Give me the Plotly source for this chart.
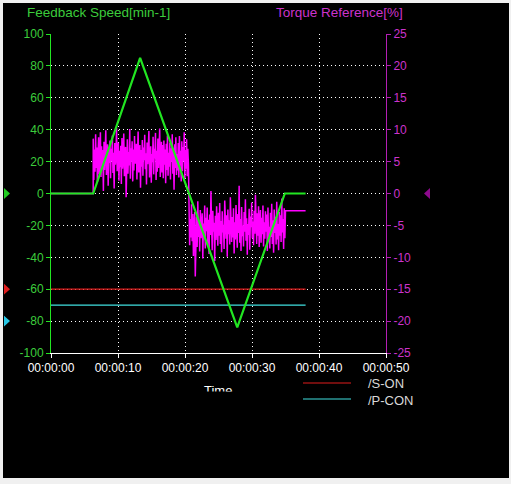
import plotly.graph_objects as go

# ---------------- data ----------------
speed_t = [0.0, 6.3, 13.3, 27.8, 34.9, 38.0]
speed_v = [0, 0, 85, -84, 0, 0]

son_t = [0.0, 38.0]
son_v = [-60, -60]
pcon_t = [0.0, 38.0]
pcon_v = [-70, -70]

torque_pre_t = [0.0, 6.3]
torque_pre_v = [0, 0]
seg1_start, seg1_end = 6.3, 20.6
torque_seg1 = [8.6, 2.1, 6.9, 3.4, 9.3, 4.0, 7.2, 1.8, 6.1, 8.8, 3.0, 5.9, 9.6, 2.6, 7.4, 4.3,
               6.8, 0.4, 8.1, 3.7, 6.3, 9.9, 2.9, 5.4, 7.7, 1.2, 6.6, 4.8, 8.3, 2.4, 7.0, 5.1,
               9.1, 3.2, 6.4, 0.8, 7.9, 4.5, 6.0, 10.3, 3.5, 5.7, 8.0, 2.0, 6.7, 4.1, 7.5, 1.5,
               8.7, 3.9, 5.5, 9.4, 2.7, 6.2, 7.3, -0.6, 5.8, 8.5, 3.1, 6.5, 4.4, 10.1, 2.3, 7.1,
               5.0, 8.2, 1.9, 6.9, 3.6, 9.0, 4.7, 5.3, 7.8, 2.2, 6.1, 9.7, 3.3, 5.6, 7.6, 0.9,
               6.8, 4.2, 8.4, 2.8, 7.2, 5.2, 9.2, 3.8, 6.3, 1.4, 8.0, 4.6, 6.6, 9.8, 2.5, 5.9,
               7.4, 1.7, 6.2, 4.9, 8.9, 3.0, 7.0, 5.5, 9.5, 2.1, 6.7, 3.4, 8.6, 4.0, 7.3, 10.2,
               2.6, 6.0, 8.1, 3.3, 7.6, 2.4, 8.3, 4.5, 6.9, 1.6, 7.8, 3.7, 9.1, 2.8, 6.4, 4.2,
               8.0, 2.2, 7.1, 5.0, 9.3, 3.1, 6.5, 0.6, 7.7, 4.0, 8.8, 2.9, 6.2, 3.6, 7.9, 2.5,
               9.0, 4.4, 6.7, 1.9, 8.2, 3.5, 7.3, 5.1, 9.6, 2.3, 6.8, 3.9, 8.5, 2.7, 7.0, 4.6]
seg2_start, seg2_end = 20.6, 35.0
torque_seg2 = [-2.4, -8.1, -4.0, -6.9, -1.7, -7.5, -3.2, -9.8, -5.1, -2.9, -13.0, -6.2, -3.6, -8.4,
               -1.2, -6.8, -4.4, -9.1, -2.6, -7.0, -5.5, -3.1, -10.2, -4.7, -6.3, -1.9, -8.6, -3.8,
               -5.9, -2.2, -7.8, -4.1, -9.5, -3.3, -6.5, 0.4, -5.2, -8.9, -2.7, -6.0, -4.6, -10.6,
               -3.5, -7.3, -2.0, -5.7, -8.2, -3.0, -6.6, -1.5, -7.9, -4.3, -9.2, -2.8, -6.1, -4.9,
               -8.7, -1.1, -5.4, -7.1, -3.4, -9.9, -2.5, -6.4, -4.2, -8.0, -0.6, -5.8, -7.6, -3.7,
               -6.9, -2.3, -9.4, -4.5, -7.2, -1.8, -5.6, -8.5, -3.2, -6.2, 1.2, -7.7, -4.0, -9.0,
               -2.1, -6.7, -5.0, -8.3, -2.9, -6.0, -0.9, -7.4, -3.9, -9.6, -4.8, -6.5, -2.4, -8.8,
               -3.6, -5.3, -1.4, -7.0, -4.4, -8.1, -2.7, -6.3, -0.2, -5.5, -7.9, -3.1, -6.6, -2.0,
               -8.4, -4.1, -2.6, -7.7, -3.8, -6.4, -1.9, -8.3, -4.5, -7.1, -2.8, -6.0, -3.3, -9.0,
               -2.2, -7.4, -5.2, -8.6, -3.0, -6.8, -1.6, -7.9, -4.2, -9.3, -2.5, -6.2, -3.7, -8.0,
               -1.3, -7.2, -4.8, -8.9, -2.9, -6.6, -3.4, -7.6, -0.8, -6.1, -4.0, -8.7, -2.3, -7.0]
torque_post_t = [35.0, 38.0]
torque_post_v = [-2.7, -2.7]

x_ticks = [0, 10, 20, 30, 40, 50]
x_labels = ["00:00:00", "00:00:10", "00:00:20", "00:00:30", "00:00:40", "00:00:50"]
speed_ticks = [100, 80, 60, 40, 20, 0, -20, -40, -60, -80, -100]
torque_ticks = [25, 20, 15, 10, 5, 0, -5, -10, -15, -20, -25]

# ---------------- build torque series ----------------
def sample_times(start, end, n):
    step = (end - start) / n
    return [start + i * step for i in range(n)]

t1 = sample_times(seg1_start, seg1_end, len(torque_seg1))
t2 = sample_times(seg2_start, seg2_end, len(torque_seg2))
torque_t = torque_pre_t + t1 + t2 + torque_post_t
torque_v = torque_pre_v + torque_seg1 + torque_seg2 + torque_post_v

GREEN_LINE = "#22e622"
GREEN_TXT = "#3ccc3c"
MAG_LINE = "#ff00ff"
MAG_TXT = "#cc33cc"
MAG_AX = "#b41eb4"

fig = go.Figure()
# torque on main y (right side)
fig.add_trace(go.Scatter(x=torque_t, y=torque_v, mode="lines",
                         line=dict(color=MAG_LINE, width=1.5), yaxis="y", showlegend=False))
# speed-axis traces (y2, left side, drawn on top)
fig.add_trace(go.Scatter(x=son_t, y=son_v, mode="lines",
                         line=dict(color="#e01c1c", width=1.2), yaxis="y2", showlegend=False))
fig.add_trace(go.Scatter(x=pcon_t, y=pcon_v, mode="lines",
                         line=dict(color="#40e0e0", width=1.2), yaxis="y2", showlegend=False))
fig.add_trace(go.Scatter(x=speed_t, y=speed_v, mode="lines",
                         line=dict(color=GREEN_LINE, width=2.2), yaxis="y2", showlegend=False))

W, H = 511, 484
L, R, T, B = 51, 386, 34, 353


def px(x):
    return (x - L) / (R - L)


def py(y):
    return (B - y) / (B - T)


shapes = [
    # black canvas inside grey window frame
    dict(type="rect", xref="paper", yref="paper", x0=px(3), x1=px(509), y0=py(3), y1=py(478),
         fillcolor="#000000", line=dict(width=0), layer="below"),
    # legend lines
    dict(type="line", xref="paper", yref="paper", x0=px(303), x1=px(351), y0=py(383), y1=py(383),
         line=dict(color="#e01c1c", width=1)),
    dict(type="line", xref="paper", yref="paper", x0=px(303), x1=px(351), y0=py(399), y1=py(399),
         line=dict(color="#40e0e0", width=1)),
]

# side markers (triangles)
def tri_right(xl, xr, yc, yref, half):
    return dict(type="path", xref="paper", yref=yref,
                path=f"M {px(xl)},{yc + half} L {px(xr)},{yc} L {px(xl)},{yc - half} Z")


def tri_left(xl, xr, yc, yref, half):
    return dict(type="path", xref="paper", yref=yref,
                path=f"M {px(xr)},{yc + half} L {px(xl)},{yc} L {px(xr)},{yc - half} Z")

m = tri_right(4, 10, 0, "y2", 3.4); m.update(fillcolor="#22cc22", line=dict(width=0)); shapes.append(m)
m = tri_right(4, 10, -60, "y2", 3.4); m.update(fillcolor="#e01e1e", line=dict(width=0)); shapes.append(m)
m = tri_right(4, 10, -80, "y2", 3.4); m.update(fillcolor="#28c8e6", line=dict(width=0)); shapes.append(m)
m = tri_left(424, 430, 0, "y", 0.85); m.update(fillcolor="#8c0a8c", line=dict(width=0)); shapes.append(m)

font_fam = "Liberation Sans, Arial, sans-serif"
annotations = [
    dict(text="Feedback Speed[min-1]", xref="paper", yref="paper", x=px(25), y=py(12),
         xanchor="left", yanchor="middle", showarrow=False,
         font=dict(color=GREEN_TXT, size=13.5, family=font_fam)),
    dict(text="Torque Reference[%]", xref="paper", yref="paper", x=px(274), y=py(12),
         xanchor="left", yanchor="middle", showarrow=False,
         font=dict(color=MAG_TXT, size=13.5, family=font_fam)),
    dict(text="/S-ON", xref="paper", yref="paper", x=px(366), y=py(383),
         xanchor="left", yanchor="middle", showarrow=False,
         font=dict(color="#d8d8d8", size=13, family=font_fam)),
    dict(text="/P-CON", xref="paper", yref="paper", x=px(366), y=py(400),
         xanchor="left", yanchor="middle", showarrow=False,
         font=dict(color="#d8d8d8", size=13, family=font_fam)),
    dict(text="Time", xref="paper", yref="paper", x=px(218), y=py(381),
         xanchor="center", yanchor="top", showarrow=False,
         font=dict(color="#ffffff", size=13, family=font_fam)),
    # clipping box over the lower part of the "Time" label
    dict(text=" ", xref="paper", yref="paper", x=px(218), y=py(391),
         xanchor="center", yanchor="top", showarrow=False, width=70, height=22,
         bgcolor="#000000", borderpad=0, font=dict(size=10)),
]

grid_dash = "1px,3px"
fig.update_layout(
    width=W, height=H,
    margin=dict(l=L, r=W - R, t=T, b=H - B, pad=0),
    paper_bgcolor="#f0f0f0",
    plot_bgcolor="#000000",
    showlegend=False,
    shapes=shapes,
    annotations=annotations,
    font=dict(family=font_fam, size=12),
    xaxis=dict(range=[0, 50], tickvals=x_ticks, ticktext=x_labels,
               showline=True, linecolor="#ffffff", linewidth=1,
               ticks="outside", ticklen=4, tickcolor="#ffffff",
               tickfont=dict(color="#ffffff", size=12, family=font_fam),
               showgrid=True, gridcolor="#ffffff", gridwidth=1, griddash=grid_dash,
               zeroline=False, fixedrange=True),
    yaxis=dict(range=[-25, 25], side="right", tickvals=torque_ticks,
               ticktext=[str(v) for v in torque_ticks],
               showline=True, linecolor=MAG_AX, linewidth=1,
               ticks="outside", ticklen=4, tickcolor=MAG_AX,
               tickfont=dict(color=MAG_TXT, size=12, family=font_fam),
               showgrid=False, zeroline=False, fixedrange=True),
    yaxis2=dict(range=[-100, 100], side="left", overlaying="y", tickvals=speed_ticks,
                ticktext=[str(v) for v in speed_ticks],
                showline=True, linecolor=GREEN_LINE, linewidth=1,
                ticks="outside", ticklen=4, tickcolor=GREEN_LINE,
                tickfont=dict(color=GREEN_TXT, size=12, family=font_fam),
                showgrid=True, gridcolor="#ffffff", gridwidth=1, griddash=grid_dash,
                zeroline=False, fixedrange=True),
)

fig.write_html("out.html", config={"displayModeBar": False},
               post_script="document.body.style.margin='0';document.body.style.background='#f0f0f0';")
